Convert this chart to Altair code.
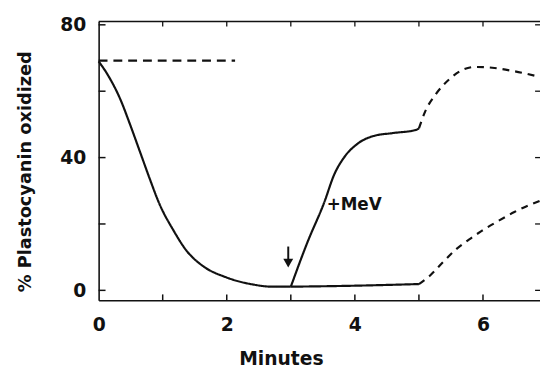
import altair as alt
import pandas as pd

# ---- data ----
decline_t = [0, 0.14, 0.34, 0.49, 0.65, 0.8, 0.95, 1.17, 1.37, 1.63, 1.98, 2.4, 2.71, 3.0]
decline_v = [69, 65, 57.5, 50, 41.5, 33.5, 26, 18, 12, 7.3, 4.0, 1.8, 1.1, 1.1]

rise_t = [3.0, 3.26, 3.52, 3.68, 3.83, 4.03, 4.29, 4.6, 4.95, 5.0]
rise_v = [1.1, 14.5, 26.4, 35, 40, 44, 46.5, 47.4, 48.3, 48.8]

flat_t = [3.0, 4.0, 5.0]
flat_v = [1.1, 1.4, 1.9]

upper_dash_t = [5.0, 5.1, 5.26, 5.48, 5.68, 5.88, 6.18, 6.49, 6.89]
upper_dash_v = [48.8, 54, 59, 63.7, 66.4, 67.3, 67, 66, 64.3]

lower_dash_t = [5.0, 5.17, 5.37, 5.57, 5.78, 5.98, 6.23, 6.49, 6.89]
lower_dash_v = [1.9, 4.4, 8.4, 12.2, 15.3, 17.9, 20.8, 23.6, 27.0]

ref_dash_t = [0, 2.13]
ref_dash_v = [69.2, 69.2]

arrow_t = [2.96]
arrow_top = [13.2]
arrow_head = [8.2]

label_t = [3.56]
label_v = [25.8]
label_text = ["+MeV"]

x_ticks = [0, 1, 2, 3, 4, 5, 6]
x_inner_ticks = [1, 2, 3, 4, 5, 6]
y_ticks = [0, 20, 40, 60, 80]
x_domain = [0, 6.89]
y_domain = [-3, 81]

# ---- geometry / style constants ----
W, H = 448, 283
PX_X = W / (x_domain[1] - x_domain[0])
PX_Y = H / (y_domain[1] - y_domain[0])
FONT = "DejaVu Sans"
INK = "#111111"

# ---- build tables ----
rows = []
def add(ts, vs, seg, style):
    for t, v in zip(ts, vs):
        rows.append({"t": t, "v": v, "seg": seg, "style": style})

add(decline_t, decline_v, "decline", "solid")
add(rise_t, rise_v, "rise", "solid")
add(flat_t, flat_v, "flat", "solid")
add(upper_dash_t, upper_dash_v, "upper_dash", "dash")
add(lower_dash_t, lower_dash_v, "lower_dash", "dash")
add(ref_dash_t, ref_dash_v, "ref_dash", "dash_long")
lines_df = pd.DataFrame(rows)

arrow_df = pd.DataFrame({"t": arrow_t, "top": arrow_top, "head": arrow_head})
label_df = pd.DataFrame({"t": label_t, "v": label_v, "text": label_text})
xtick_df = pd.DataFrame({"tick": x_inner_ticks})
ytick_df = pd.DataFrame({"tick": y_ticks})
frame_df = pd.DataFrame({"k": [0]})

xs = alt.Scale(domain=x_domain, nice=False, zero=False)
ys = alt.Scale(domain=y_domain, nice=False, zero=False)

x_bottom = alt.Axis(
    orient="bottom", values=x_ticks, labelExpr="datum.value % 2 == 0 ? datum.label : ''",
    ticks=False, labelPadding=16, labelFlush=False, labelOverlap=False,
    title="Minutes", titleX=185, titleY=65, titleBaseline="alphabetic", titleAlign="center",
    titleFontSize=19, titleFont=FONT, titleFontWeight="bold",
    labelFont=FONT, labelFontSize=19, labelFontWeight="bold",
    domainWidth=1.6, grid=False, domainColor=INK, labelColor=INK, titleColor=INK,
)
y_left = alt.Axis(
    orient="left", values=y_ticks, labelExpr="datum.value % 40 == 0 ? datum.label : ''",
    ticks=False, labelPadding=13, labelFlush=False, labelOverlap=False,
    title="% Plastocyanin oxidized", titleX=-74, titleY=152, titleAngle=270,
    titleBaseline="middle", titleAlign="center",
    titleFontSize=18, titleFont=FONT, titleFontWeight="bold",
    labelFont=FONT, labelFontSize=19, labelFontWeight="bold",
    domainWidth=1.6, grid=False, domainColor=INK, labelColor=INK, titleColor=INK,
)

lines = alt.Chart(lines_df).mark_line(interpolate="monotone", color=INK, strokeWidth=2.2).encode(
    x=alt.X("t:Q", scale=xs, axis=x_bottom),
    y=alt.Y("v:Q", scale=ys, axis=y_left),
    detail="seg:N",
    strokeDash=alt.StrokeDash(
        "style:N",
        scale=alt.Scale(domain=["solid", "dash", "dash_long"], range=[[1, 0], [7, 6], [9, 6]]),
        legend=None,
    ),
)

shaft = alt.Chart(arrow_df).mark_rule(color=INK, strokeWidth=2).encode(
    x=alt.X("t:Q", scale=xs, axis=None),
    y=alt.Y("top:Q", scale=ys, axis=None),
    y2="head:Q",
)
head = alt.Chart(arrow_df).mark_point(shape="triangle-down", filled=True, color=INK, size=100, opacity=1).encode(
    x=alt.X("t:Q", scale=xs, axis=None),
    y=alt.Y("head:Q", scale=ys, axis=None),
)
label = alt.Chart(label_df).mark_text(
    align="left", baseline="middle", font=FONT, fontSize=17, fontWeight="bold", color=INK
).encode(
    x=alt.X("t:Q", scale=xs, axis=None),
    y=alt.Y("v:Q", scale=ys, axis=None),
    text="text:N",
)

# inward-pointing frame ticks, positioned through the scales
bottom_ticks = alt.Chart(xtick_df).transform_calculate(
    a=f"{y_domain[0]}", b=f"{y_domain[0] + 6 / PX_Y}"
).mark_rule(color=INK, strokeWidth=1.5).encode(
    x=alt.X("tick:Q", scale=xs, axis=None),
    y=alt.Y("a:Q", scale=ys, axis=None),
    y2="b:Q",
)
top_ticks = alt.Chart(xtick_df).transform_calculate(
    a=f"{y_domain[1]}", b=f"{y_domain[1] - 5 / PX_Y}"
).mark_rule(color=INK, strokeWidth=1.3).encode(
    x=alt.X("tick:Q", scale=xs, axis=None),
    y=alt.Y("a:Q", scale=ys, axis=None),
    y2="b:Q",
)
left_ticks = alt.Chart(ytick_df).transform_calculate(
    a=f"{x_domain[0]}", b=f"{x_domain[0] + 7 / PX_X}"
).mark_rule(color=INK, strokeWidth=1.5).encode(
    y=alt.Y("tick:Q", scale=ys, axis=None),
    x=alt.X("a:Q", scale=xs, axis=None),
    x2="b:Q",
)
right_ticks = alt.Chart(ytick_df).transform_calculate(
    a=f"{x_domain[1]}", b=f"{x_domain[1] - 5 / PX_X}"
).mark_rule(color=INK, strokeWidth=1.3).encode(
    y=alt.Y("tick:Q", scale=ys, axis=None),
    x=alt.X("a:Q", scale=xs, axis=None),
    x2="b:Q",
)
top_frame = alt.Chart(frame_df).transform_calculate(
    a=f"{x_domain[0]}", b=f"{x_domain[1]}", c=f"{y_domain[1]}"
).mark_rule(color=INK, strokeWidth=1.5).encode(
    x=alt.X("a:Q", scale=xs, axis=None),
    x2="b:Q",
    y=alt.Y("c:Q", scale=ys, axis=None),
)

chart = alt.layer(
    lines, shaft, head, label, bottom_ticks, top_ticks, left_ticks, right_ticks, top_frame
).resolve_axis(
    x="independent", y="independent"
).properties(
    width=W, height=H,
    autosize=alt.AutoSizeParams(type="none"),
    padding={"left": 92, "top": 11, "right": 0, "bottom": 66},
    background="white",
).configure_view(stroke=None)

chart.save("out.html", embed_options={"renderer": "svg", "actions": False})
